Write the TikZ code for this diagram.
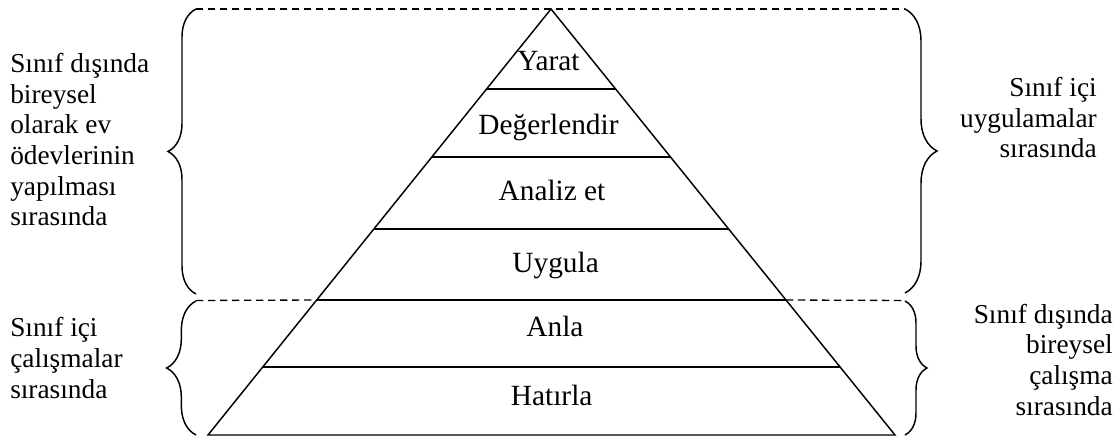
\documentclass[tikz,border=0pt]{standalone}
\usepackage{fontspec}
\setmainfont{Liberation Serif}
\usetikzlibrary{calc,decorations.pathreplacing}
\begin{document}
\begin{tikzpicture}[x=0.75pt,y=-0.75pt,
  edge/.style={line width=1.1pt, line join=miter},
  guide/.style={line width=1pt, dash pattern=on 5.5pt off 3.5pt},
  curly/.style={line width=1.1pt, decorate, decoration={brace, amplitude=#1}},
  level/.style={font=\fontsize{22}{25}\selectfont, inner sep=0pt, anchor=base},
  note/.style={font=\fontsize{20.5}{23}\selectfont, inner sep=0pt}]
\useasboundingbox (0,0) rectangle (1117,438);

% pyramid outline
\coordinate (apex) at (551,9);
\coordinate (bl) at (208,435);
\coordinate (br) at (895,435);
\draw[edge] (apex) -- (bl) -- (br) -- cycle;

% level separators
\foreach \t [count=\i] in {0.1878,0.3474,0.5164,0.6831,0.8404} {
  \coordinate (L\i) at ($(apex)!\t!(bl)$);
  \coordinate (R\i) at ($(apex)!\t!(br)$);
  \draw[edge] (L\i) -- (R\i);
}

% level names
\node[level] (yarat) at (548.5,70.7) {Yarat};
\node[level] (deger) at (548.5,135) {Değerlendir};
\node[level] (analiz) at (552,200.7) {Analiz et};
\node[level] (uygula) at (555.6,272.7) {Uygula};
\node[level] (anla) at (555,336.7) {Anla};
\node[level] (hatirla) at (551.7,405) {Hatırla};

% dashed guides
\coordinate (tl) at (196,9);
\coordinate (tr) at (905,9);
\coordinate (ml) at (196,300.5);
\coordinate (mr) at (905,300.5);
\draw[guide] (tl) -- (tr);
\draw[guide] (ml) -- (L4);
\draw[guide] (R4) -- (mr);

% braces
\coordinate (lb1) at (196,294);
\coordinate (lt2) at (196,301);
\coordinate (lb2) at (196,435);
\coordinate (rb1) at (905,293);
\coordinate (rt2) at (905,301);
\coordinate (rb2) at (905,435);
\draw[curly=21pt] (lb1) -- (tl);
\draw[curly=22pt] (lb2) -- (lt2);
\draw[curly=24pt] (tr) -- (rb1);
\draw[curly=16.5pt] (rt2) -- (rb2);

% side notes (anchored on the baseline of their last line)
\node[note, anchor=base west, align=left] (n1) at (10,226)
  {Sınıf dışında\\bireysel\\olarak ev\\ödevlerinin\\yapılması\\sırasında};
\node[note, anchor=base west, align=left] (n2) at (10,398)
  {Sınıf içi\\çalışmalar\\sırasında};
\node[note, anchor=base east, align=right] (n3) at (1097,158)
  {Sınıf içi\\uygulamalar\\sırasında};
\node[note, anchor=base east, align=right] (n4) at (1113,415)
  {Sınıf dışında\\bireysel\\çalışma\\sırasında};
\end{tikzpicture}
\end{document}
